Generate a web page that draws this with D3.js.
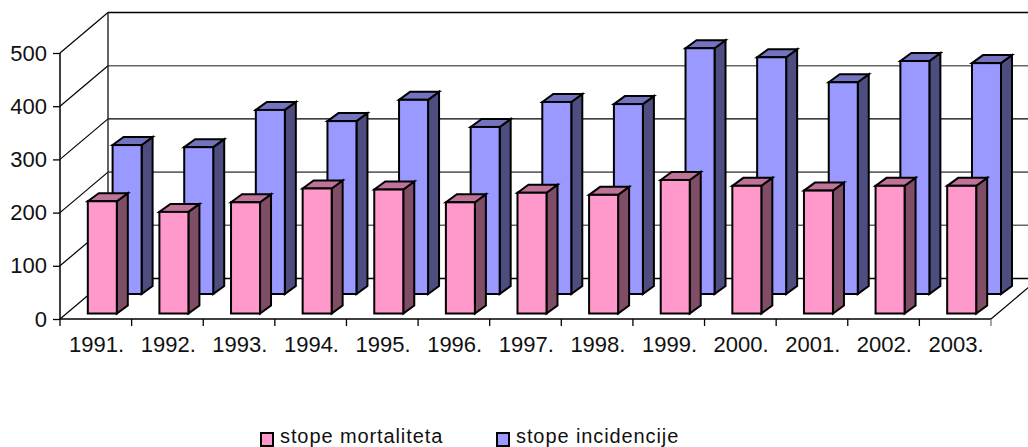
<!DOCTYPE html>
<html><head><meta charset="utf-8">
<script src="https://cdn.jsdelivr.net/npm/d3@7"></script>
<style>html,body{margin:0;padding:0;background:#fff;overflow:hidden}svg{display:block}text{font-family:"Liberation Sans",Arial,sans-serif;fill:#111}</style>
</head><body><svg id="c" width="1028" height="447"></svg>
<script>
const years=["1991.","1992.","1993.","1994.","1995.","1996.","1997.","1998.","1999.","2000.","2001.","2002.","2003."];
const mortality=[211,191,209,235,233,209,227,223,251,240,231,240,240];
const incidence=[280,276,346,325,365,314,361,357,462,445,398,438,434];
const yTicks=[0,100,200,300,400,500];
const softTicks=[100,200,400];
const seriesNames=["stope mortaliteta","stope incidencije"];
const seriesColors=[["#FF99CC","#BF7399","#804D66"],["#9999FF","#7373BF","#4D4D80"]];

const svg=d3.select("#c");
const x=d3.scaleBand().domain(years).range([60,991]);
const y=d3.scaleLinear().domain([0,500]).range([319,53]);
const wall={dx:48,dy:-40.5};
const bar={w:29,dx:11,dy:8};
const line=(a,b,c,d,col="#000",w=1.3)=>svg.append("line").attr("x1",a).attr("y1",b).attr("x2",c).attr("y2",d).attr("stroke",col).attr("stroke-width",w);

yTicks.forEach(t=>{
  const soft=softTicks.includes(t);
  line(60,y(t),60+wall.dx,y(t)+wall.dy,"#000",1.2);
  line(60+wall.dx,y(t)+wall.dy,1028,y(t)+wall.dy,soft?"#666":"#000",soft?1.6:1.3);
});
line(60+wall.dx,y(500)+wall.dy,60+wall.dx,y(0)+wall.dy,"#222",1.4);
line(x.range()[1],y(0),x.range()[1]+wall.dx,y(0)+wall.dy,"#000",1.2);

function drawBars(vals,off,baseY,cols,cls){
  const g=svg.append("g").attr("class",cls);
  const h=v=>y(0)-y(v);
  const sel=g.selectAll("g").data(vals).join("g");
  const L=(d,i)=>x(years[i])+off, T=d=>baseY-h(d), W=bar.w, B=baseY;
  const style=s=>s.attr("stroke","#000").attr("stroke-width",2).attr("stroke-linejoin","miter");
  style(sel.append("path").attr("fill",cols[2])).attr("d",(d,i)=>{const l=L(d,i)+W;return `M${l},${T(d)}L${l+bar.dx},${T(d)-bar.dy}L${l+bar.dx},${B-bar.dy}L${l},${B}Z`});
  style(sel.append("path").attr("fill",cols[1])).attr("d",(d,i)=>{const l=L(d,i);return `M${l},${T(d)}L${l+bar.dx},${T(d)-bar.dy}L${l+W+bar.dx},${T(d)-bar.dy}L${l+W},${T(d)}Z`});
  style(sel.append("rect").attr("fill",cols[0])).attr("x",(d,i)=>L(d,i)).attr("y",T).attr("width",W).attr("height",h);
}
drawBars(incidence,52.6,294,seriesColors[1],"inc");
drawBars(mortality,27.8,313.5,seriesColors[0],"mor");

const yAxis=svg.append("g").attr("transform","translate(60,0)").call(d3.axisLeft(y).tickValues(yTicks).tickSize(7).tickPadding(6));
const xAxis=svg.append("g").attr("transform","translate(0.8,319)").call(d3.axisBottom(x).tickSize(0).tickPadding(17));
[yAxis,xAxis].forEach(a=>{a.selectAll("path").attr("stroke","#000").attr("stroke-width",1.5);a.selectAll("line").attr("stroke","#000").attr("stroke-width",1.3);a.selectAll("text").style("font-family",'"Liberation Sans",Arial,sans-serif').style("font-size","22px").attr("fill","#111");});
yAxis.select("path").attr("d","M0,53V319");
xAxis.select("path").attr("d","M59.2,0H990.2");
svg.append("g").selectAll("line").data(d3.range(years.length+1)).join("line")
 .attr("x1",i=>60+i*x.step()).attr("x2",i=>60+i*x.step()).attr("y1",319).attr("y2",326).attr("stroke",(d,i)=>i===13?"#777":"#000").attr("stroke-width",1.3);

const lx=[260,496];
const lg=svg.append("g").selectAll("g").data(seriesNames).join("g").attr("transform",(d,i)=>`translate(${lx[i]},432)`);
lg.append("rect").attr("x",1).attr("y",1).attr("width",12).attr("height",13).attr("fill",(d,i)=>seriesColors[i][0]).attr("stroke","#000").attr("stroke-width",2);
lg.append("text").attr("x",20).attr("y",10.5).style("font-size","20px").style("letter-spacing","0.9px").text(d=>d);
</script></body></html>
